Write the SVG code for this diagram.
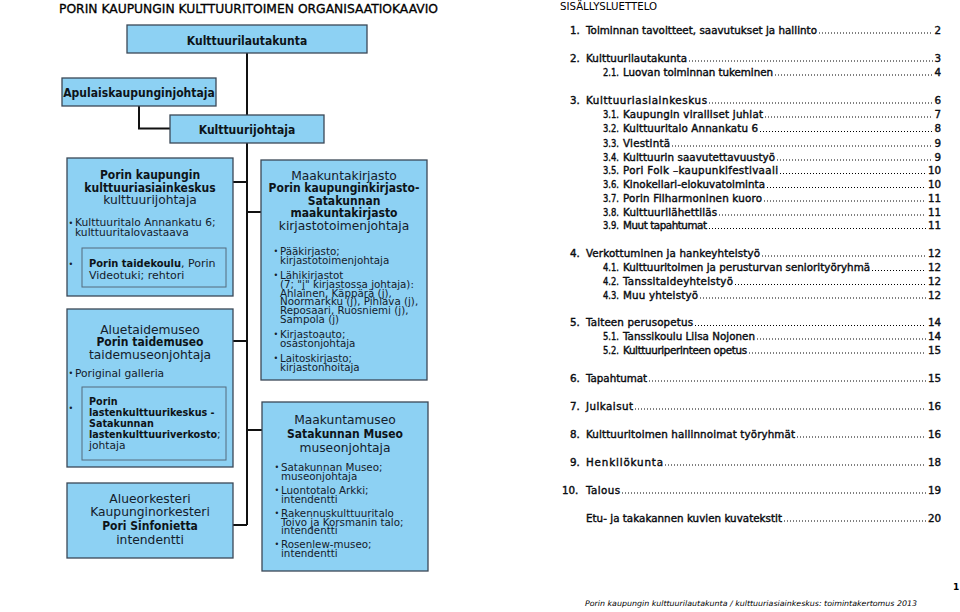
<svg xmlns="http://www.w3.org/2000/svg" width="960" height="612" viewBox="0 0 960 612">
<style>
text{font-family:"DejaVu Sans","Liberation Sans",sans-serif;fill:#14202b}
.h{font-family:"DejaVu Sans Condensed","DejaVu Sans",sans-serif;font-stretch:condensed;font-weight:bold;fill:#0d1419}
.n{font-size:12.3px}
.hb{font-size:12px}
.bl{font-size:10.7px}
.bt{font-size:10.3px}
.bu{font-size:8px}
.c{text-anchor:middle}
.box{fill:#8dd1f3;stroke:#3b4856;stroke-width:1.3}
.in{fill:none;stroke:#556b7c;stroke-width:1}
.conn{fill:none;stroke:#111;stroke-width:2}
.toc{font-size:10.3px;fill:#000;stroke:#000;stroke-width:0.4}
.dots{stroke:#000;stroke-width:1;stroke-dasharray:1 2;fill:none}
.pg{text-anchor:end}
</style>
<rect width="960" height="612" fill="#fff"/>
<text x="59" y="12.8" style="font-size:12.3px;fill:#000;stroke:#000;stroke-width:0.3" textLength="379" lengthAdjust="spacingAndGlyphs">PORIN KAUPUNGIN KULTTUURITOIMEN ORGANISAATIOKAAVIO</text>

<g id="connectors">
<path class="conn" d="M247 53 V525"/>
<path class="conn" d="M233 182 H247 M233 341 H247 M233 525 H247 M247 212 H261 M247 430 H262"/>
<path class="conn" d="M139 106 V128.5 H170"/>
</g>

<g id="kulttuurilautakunta">
<rect class="box" x="127" y="25" width="240" height="28"/>
<text class="h hb c" x="247" y="44.5">Kulttuurilautakunta</text>
</g>
<g id="apulaiskaupunginjohtaja">
<rect class="box" x="62" y="78" width="154" height="28"/>
<text class="h hb c" x="139" y="96.5">Apulaiskaupunginjohtaja</text>
</g>
<g id="kulttuurijohtaja">
<rect class="box" x="170" y="115" width="154" height="28"/>
<text class="h hb c" x="247" y="133.5">Kulttuurijohtaja</text>
</g>

<g id="kulttuuriasiainkeskus">
<rect class="box" x="67" y="158" width="166" height="138"/>
<text class="h hb c" x="150" y="179">Porin kaupungin</text>
<text class="h hb c" x="150" y="191.5">kulttuuriasiainkeskus</text>
<text class="n c" x="150" y="204">kulttuurijohtaja</text>
<text class="bu" x="68.5" y="225.5">•</text>
<text class="bl" x="75" y="226">Kulttuuritalo Annankatu 6;</text>
<text class="bl" x="75" y="235.5">kulttuuritalovastaava</text>
<rect class="in" x="82" y="248" width="144" height="39"/>
<text class="bu" x="68.5" y="267">•</text>
<text class="bl" style="font-size:11px" x="89" y="267"><tspan class="h">Porin taidekoulu</tspan>, Porin</text>
<text class="bl" style="font-size:11px" x="89" y="278.5">Videotuki; rehtori</text>
</g>

<g id="taidemuseo">
<rect class="box" x="67" y="309" width="166" height="158"/>
<text class="n c" x="150" y="333.5">Aluetaidemuseo</text>
<text class="h hb c" x="150" y="346">Porin taidemuseo</text>
<text class="n c" x="150" y="358.5">taidemuseonjohtaja</text>
<text class="bu" x="68.5" y="376">•</text>
<text class="bl" x="75" y="377">Poriginal galleria</text>
<rect class="in" x="82" y="387" width="144" height="73"/>
<text class="bu" x="68.5" y="411">•</text>
<text class="bl" x="89" y="405"><tspan class="h">Porin</tspan></text>
<text class="bl" x="89" y="416"><tspan class="h">lastenkulttuurikeskus -</tspan></text>
<text class="bl" x="89" y="427"><tspan class="h">Satakunnan</tspan></text>
<text class="bl" x="89" y="438"><tspan class="h">lastenkulttuuriverkosto</tspan>;</text>
<text class="bl" x="89" y="449">johtaja</text>
</g>

<g id="sinfonietta">
<rect class="box" x="67" y="483" width="166" height="75"/>
<text class="n c" x="150" y="502.5">Alueorkesteri</text>
<text class="n c" x="150" y="516">Kaupunginorkesteri</text>
<text class="h hb c" x="150" y="530">Pori Sinfonietta</text>
<text class="n c" x="150" y="543.5">intendentti</text>
</g>

<g id="kirjasto">
<rect class="box" x="261" y="160" width="166" height="220"/>
<text class="n c" x="344" y="179.5">Maakuntakirjasto</text>
<text class="h hb c" x="344" y="192">Porin kaupunginkirjasto-</text>
<text class="h hb c" x="344" y="204.5">Satakunnan</text>
<text class="h hb c" x="344" y="217">maakuntakirjasto</text>
<text class="n c" x="344" y="229.5">kirjastotoimenjohtaja</text>
<text class="bu" x="273.5" y="253.5">•</text>
<text class="bt" x="280" y="254.5">Pääkirjasto;</text>
<text class="bt" x="280" y="263.5">kirjastotoimenjohtaja</text>
<text class="bu" x="273.5" y="278">•</text>
<text class="bt" x="280" y="279">Lähikirjastot</text>
<text class="bt" x="280" y="287.8">(7; "j" kirjastossa johtaja):</text>
<text class="bt" x="280" y="296.6">Ahlainen, Käppärä (j),</text>
<text class="bt" x="280" y="305.4">Noormarkku (j), Pihlava (j),</text>
<text class="bt" x="280" y="314.2">Reposaari, Ruosniemi (j),</text>
<text class="bt" x="280" y="323">Sampola (j)</text>
<text class="bu" x="273.5" y="337">•</text>
<text class="bt" x="280" y="338">Kirjastoauto;</text>
<text class="bt" x="280" y="346.8">osastonjohtaja</text>
<text class="bu" x="273.5" y="361.3">•</text>
<text class="bt" x="280" y="362.3">Laitoskirjasto;</text>
<text class="bt" x="280" y="371.1">kirjastonhoitaja</text>
</g>

<g id="museo">
<rect class="box" x="262" y="402" width="166" height="169"/>
<text class="n c" x="345" y="423.5">Maakuntamuseo</text>
<text class="h hb c" x="345" y="437.8">Satakunnan Museo</text>
<text class="n c" x="345" y="451.5">museonjohtaja</text>
<text class="bu" x="274.5" y="470.3">•</text>
<text class="bt" x="281" y="471.3">Satakunnan Museo;</text>
<text class="bt" x="281" y="480.1">museonjohtaja</text>
<text class="bu" x="274.5" y="493">•</text>
<text class="bt" x="281" y="494">Luontotalo Arkki;</text>
<text class="bt" x="281" y="502.8">intendentti</text>
<text class="bu" x="274.5" y="515.7">•</text>
<text class="bt" x="281" y="516.7">Rakennuskulttuuritalo</text>
<text class="bt" x="281" y="525.5">Toivo ja Korsmanin talo;</text>
<text class="bt" x="281" y="534.3">intendentti</text>
<text class="bu" x="274.5" y="547">•</text>
<text class="bt" x="281" y="548">Rosenlew-museo;</text>
<text class="bt" x="281" y="556.8">intendentti</text>
</g>

<g id="sisallysluettelo">
<text x="560" y="10" style="font-size:10px;fill:#000" textLength="97" lengthAdjust="spacingAndGlyphs">SISÄLLYSLUETTELO</text>
<g class="toc">
<text x="570" y="33.5">1.</text><text x="586" y="33.5" textLength="231">Toiminnan tavoitteet, saavutukset ja hallinto</text><text class="pg" x="941" y="33.5">2</text>
<text x="570" y="61.5">2.</text><text x="586" y="61.5" textLength="101">Kulttuurilautakunta</text><text class="pg" x="941" y="61.5">3</text>
<text x="603" y="75.5" textLength="16" lengthAdjust="spacingAndGlyphs">2.1.</text><text x="623" y="75.5" textLength="150">Luovan toiminnan tukeminen</text><text class="pg" x="941" y="75.5">4</text>
<text x="570" y="103.5">3.</text><text x="586" y="103.5" textLength="121">Kulttuuriasiainkeskus</text><text class="pg" x="941" y="103.5">6</text>
<text x="603" y="117.5" textLength="16" lengthAdjust="spacingAndGlyphs">3.1.</text><text x="623" y="117.5" textLength="140">Kaupungin viralliset juhlat</text><text class="pg" x="941" y="117.5">7</text>
<text x="603" y="132" textLength="16" lengthAdjust="spacingAndGlyphs">3.2.</text><text x="623" y="132" textLength="135">Kulttuuritalo Annankatu 6</text><text class="pg" x="941" y="132">8</text>
<text x="603" y="146.5" textLength="16" lengthAdjust="spacingAndGlyphs">3.3.</text><text x="623" y="146.5" textLength="47">Viestintä</text><text class="pg" x="941" y="146.5">9</text>
<text x="603" y="160.5" textLength="16" lengthAdjust="spacingAndGlyphs">3.4.</text><text x="623" y="160.5" textLength="152">Kulttuurin saavutettavuustyö</text><text class="pg" x="941" y="160.5">9</text>
<text x="603" y="174" textLength="16" lengthAdjust="spacingAndGlyphs">3.5.</text><text x="623" y="174" textLength="155">Pori Folk –kaupunkifestivaali</text><text class="pg" x="941" y="174">10</text>
<text x="603" y="188" textLength="16" lengthAdjust="spacingAndGlyphs">3.6.</text><text x="623" y="188" textLength="142">Kinokellari-elokuvatoiminta</text><text class="pg" x="941" y="188">10</text>
<text x="603" y="201.5" textLength="16" lengthAdjust="spacingAndGlyphs">3.7.</text><text x="623" y="201.5" textLength="139">Porin Filharmoninen kuoro</text><text class="pg" x="941" y="201.5">11</text>
<text x="603" y="215.5" textLength="16" lengthAdjust="spacingAndGlyphs">3.8.</text><text x="623" y="215.5" textLength="94">Kulttuurilähettiläs</text><text class="pg" x="941" y="215.5">11</text>
<text x="603" y="229" textLength="16" lengthAdjust="spacingAndGlyphs">3.9.</text><text x="623" y="229" textLength="84">Muut tapahtumat</text><text class="pg" x="941" y="229">11</text>
<text x="570" y="256.5">4.</text><text x="586" y="256.5" textLength="174">Verkottuminen ja hankeyhteistyö</text><text class="pg" x="941" y="256.5">12</text>
<text x="603" y="271" textLength="16" lengthAdjust="spacingAndGlyphs">4.1.</text><text x="623" y="271" textLength="247">Kulttuuritoimen ja perusturvan seniorityöryhmä</text><text class="pg" x="941" y="271">12</text>
<text x="603" y="285" textLength="16" lengthAdjust="spacingAndGlyphs">4.2.</text><text x="623" y="285" textLength="110">Tanssitaideyhteistyö</text><text class="pg" x="941" y="285">12</text>
<text x="603" y="298.5" textLength="16" lengthAdjust="spacingAndGlyphs">4.3.</text><text x="623" y="298.5" textLength="75">Muu yhteistyö</text><text class="pg" x="941" y="298.5">12</text>
<text x="570" y="326">5.</text><text x="586" y="326" textLength="107">Taiteen perusopetus</text><text class="pg" x="941" y="326">14</text>
<text x="603" y="339.5" textLength="16" lengthAdjust="spacingAndGlyphs">5.1.</text><text x="623" y="339.5" textLength="132">Tanssikoulu Liisa Nojonen</text><text class="pg" x="941" y="339.5">14</text>
<text x="603" y="353.5" textLength="16" lengthAdjust="spacingAndGlyphs">5.2.</text><text x="623" y="353.5" textLength="124">Kulttuuriperinteen opetus</text><text class="pg" x="941" y="353.5">15</text>
<text x="570" y="381.5">6.</text><text x="586" y="381.5" textLength="61">Tapahtumat</text><text class="pg" x="941" y="381.5">15</text>
<text x="570" y="409.5">7.</text><text x="586" y="409.5" textLength="47">Julkaisut</text><text class="pg" x="941" y="409.5">16</text>
<text x="570" y="437.5">8.</text><text x="586" y="437.5" textLength="209">Kulttuuritoimen hallinnoimat työryhmät</text><text class="pg" x="941" y="437.5">16</text>
<text x="570" y="465.5">9.</text><text x="586" y="465.5" textLength="77">Henkilökunta</text><text class="pg" x="941" y="465.5">18</text>
<text x="562" y="493.5">10.</text><text x="586" y="493.5" textLength="34">Talous</text><text class="pg" x="941" y="493.5">19</text>
<text x="586" y="521.5" textLength="196">Etu- ja takakannen kuvien kuvatekstit</text><text class="pg" x="941" y="521.5">20</text>
</g>
<path class="dots" d="M819 33 H933 M689 61 H933 M775 75 H933 M709 103 H933 M765 117 H933 M760 131.5 H933 M672 146 H933 M777 160 H933 M780 173.5 H926 M767 187.5 H926 M764 201 H926 M719 215 H926 M709 228.5 H926 M762 256 H926 M872 270.5 H926 M735 284.5 H926 M700 298 H926 M695 325.5 H926 M757 339 H926 M749 353 H926 M649 381 H926 M635 409 H926 M797 437 H926 M665 465 H926 M622 493 H926 M784 521 H926"/>
</g>

<text x="953" y="590" style="font-size:9px;font-weight:bold;fill:#000">1</text>
<text x="585" y="606" style="font-size:7.6px;font-style:italic;fill:#000" textLength="332" lengthAdjust="spacingAndGlyphs">Porin kaupungin kulttuurilautakunta / kulttuuriasiainkeskus: toimintakertomus 2013</text>
</svg>
